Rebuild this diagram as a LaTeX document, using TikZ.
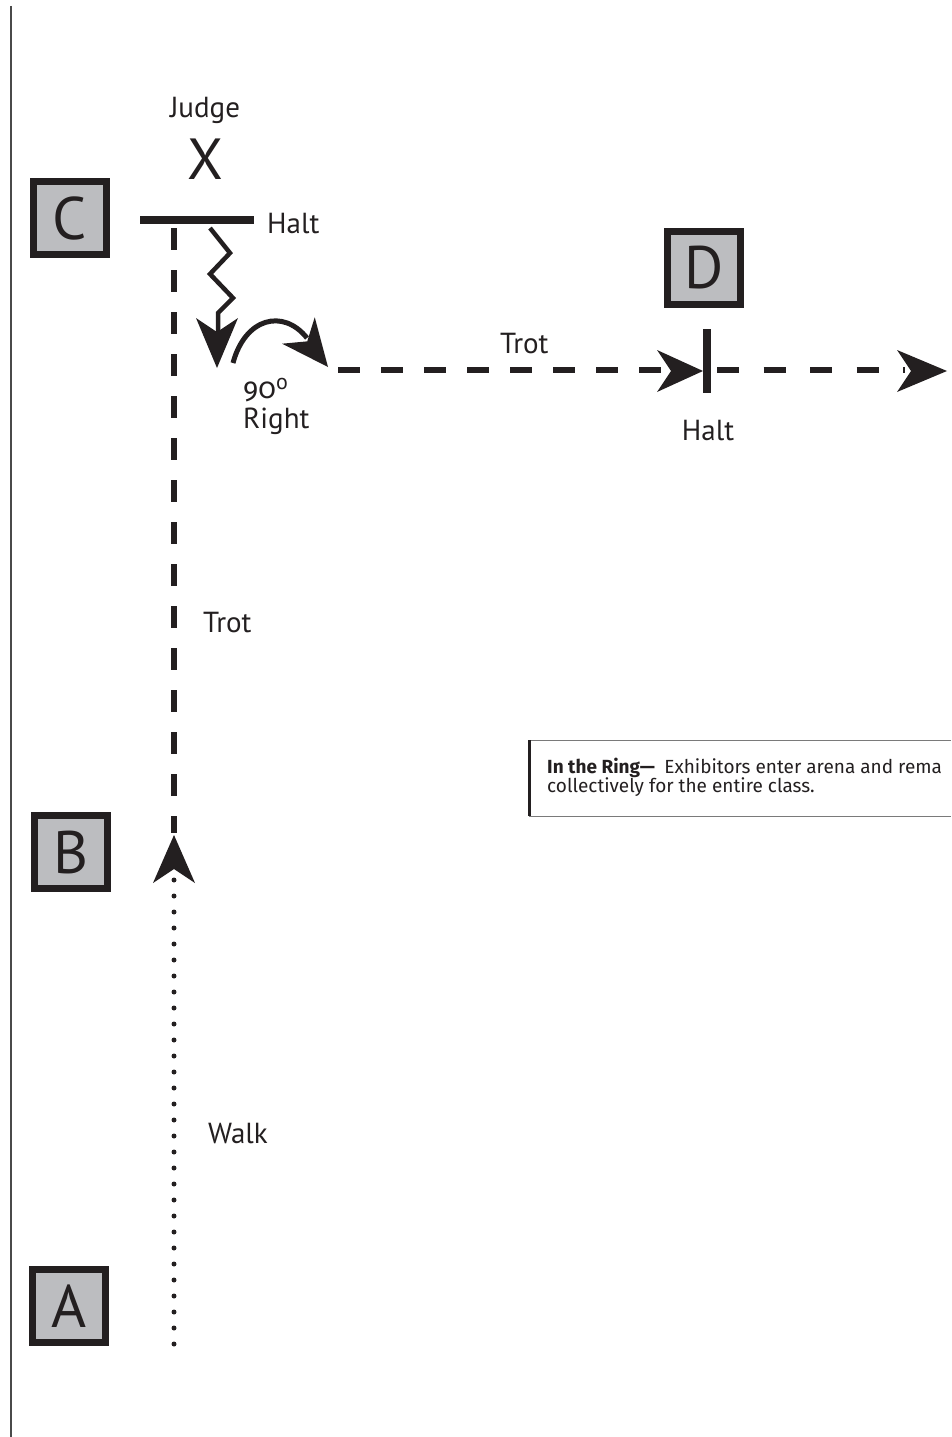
\documentclass[tikz,border=0pt]{standalone}
\usepackage{fontspec}
\setmainfont{PT Sans}
\newfontfamily\oldnum[Numbers=OldStyle]{Fira Sans}
\newfontfamily\infofont{Fira Sans}
\usetikzlibrary{arrows.meta}
\definecolor{ink}{HTML}{231F20}
\definecolor{boxgray}{HTML}{BCBDC0}
\definecolor{rulegray}{HTML}{4A4A4A}
\definecolor{framegray}{HTML}{7A7A7A}
\tikzset{
  letterbox/.style={draw=ink, fill=boxgray, line width=7pt, minimum size=73pt,
    inner sep=0pt, font=\fontsize{60}{60}\selectfont, text=ink},
  lbl/.style={font=\fontsize{29}{30}\selectfont, text=ink, inner sep=0pt},
  bigx/.style={font=\fontsize{58}{58}\selectfont, text=ink, inner sep=0pt},
  infotext/.style={font=\infofont\fontsize{19}{19}\selectfont, text=ink, inner sep=0pt},
  trotline/.style={draw=ink, line width=6pt, dash pattern=on 22pt off 20pt},
  trotlineh/.style={draw=ink, line width=6pt, dash pattern=on 22pt off 21pt},
  trotlinehb/.style={draw=ink, line width=6pt, dash pattern=on 22pt off 24.5pt},
  walkline/.style={draw=ink, line width=5pt, line cap=round, dash pattern=on 0pt off 16pt},
  haltbar/.style={draw=ink, line width=8pt},
  moveline/.style={draw=ink, line width=4.5pt, miter limit=10},
  pics/ahead/.style={code={\fill[ink] (0,0) -- (-#1,21) -- (-#1+14,0) -- (-#1,-21) -- cycle;}},
}
\begin{document}
\begin{tikzpicture}[x=1pt,y=-1pt]
\useasboundingbox (0,0) rectangle (951,1437);
\clip (0,0) rectangle (951,1437);

% left rule
\coordinate (ruleTop) at (11,6);
\coordinate (ruleBot) at (11,1437);
\draw[rulegray, line width=1.8pt] (ruleTop) -- (ruleBot);

% letter boxes
\node[letterbox] (C) at (70,218) {C};
\node[letterbox] (D) at (704,268) {D};
\node[letterbox] (B) at (71,852) {B};
\node[letterbox] (A) at (69,1306) {A};

% judge
\node[lbl, anchor=base] (judge) at (205,117) {Judge};
\node[bigx, anchor=base] (X) at (205,179) {X};

% halt bar at C
\coordinate (haltL) at (140,220);
\coordinate (haltR) at (254,220);
\draw[haltbar] (haltL) -- (haltR);
\node[lbl, anchor=base west] (haltC) at (267,233) {Halt};

% vertical trot
\coordinate (trotTop) at (174,228);
\coordinate (trotBot) at (174,833);
\draw[trotline] (trotTop) -- (trotBot);
\node[lbl, anchor=base west] (trotV) at (203,632) {Trot};

% walk
\coordinate (walkBot) at (174,1344);
\coordinate (walkTop) at (174,876);
\coordinate (Btip) at (174,835);
\draw[walkline] (walkBot) -- (walkTop);
\pic[rotate=90] at (Btip) {ahead=48};
\node[lbl, anchor=base west] (walk) at (208,1143) {Walk};

% zigzag halt move
\coordinate (z0) at (210,228);
\coordinate (z1) at (230,253);
\coordinate (z2) at (210,274);
\coordinate (z3) at (233,298);
\coordinate (z4) at (218,313);
\coordinate (z5) at (218,338);
\coordinate (ztip) at (217,368);
\draw[moveline] (z0) -- (z1) -- (z2) -- (z3) -- (z4) -- (z5);
\pic[rotate=-90] at (ztip) {ahead=50};

% 90 degree right turn
\coordinate (c0) at (233,363);
\coordinate (c1) at (307,338);
\coordinate (ctip) at (328,367);
\draw[moveline, line width=5pt] (c0) .. controls (245,318) and (283,308) .. (c1);
\pic[rotate=-51] at (ctip) {ahead=47};
\node[lbl, anchor=base west] (ninety) at (243,398) {{\oldnum 90}\raisebox{0.28em}{\fontsize{22}{22}\selectfont o}};
\node[lbl, anchor=base west] (right) at (243,428) {Right};

% horizontal trot to D
\coordinate (hA) at (338,370);
\coordinate (hB) at (680,370);
\coordinate (Dtip) at (703,371);
\draw[trotlineh] (hA) -- (hB);
\pic at (Dtip) {ahead=46};
\node[lbl, anchor=base west] (trotH) at (500,353) {Trot};

% halt bar at D
\coordinate (dbarT) at (707,329);
\coordinate (dbarB) at (707,393);
\draw[haltbar] (dbarT) -- (dbarB);
\node[lbl, anchor=base] (haltD) at (708,440) {Halt};

% continue right
\coordinate (rA) at (717,370);
\coordinate (rB) at (905,370);
\coordinate (Rtip) at (947,371);
\draw[trotlinehb] (rA) -- (rB);
\pic at (Rtip) {ahead=50};

% info box
\coordinate (ibTL) at (529,740);
\coordinate (ibBL) at (529,816);
\coordinate (ibTR) at (951,740);
\coordinate (ibBR) at (951,816);
\draw[framegray, line width=1pt] (ibTL) -- (ibTR);
\draw[framegray, line width=1pt] (ibBL) -- (ibBR);
\draw[ink, line width=3pt] (ibTL) -- (ibBL);
\node[infotext, anchor=base west] (info1) at (547,773)
  {\textbf{In the Ring—}\hspace{0.5em}Exhibitors enter arena and rema};
\node[infotext, anchor=base west] (info2) at (547,792)
  {collectively for the entire class.};
\end{tikzpicture}
\end{document}
